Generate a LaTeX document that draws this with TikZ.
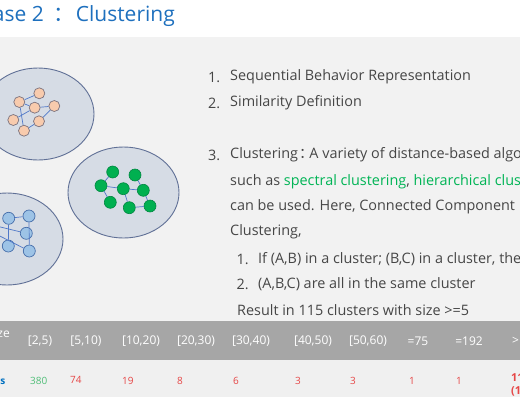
\documentclass[tikz,border=0pt]{standalone}
\usepackage{fontspec}
\setmainfont{Open Sans}
\newfontfamily\cjkf{Noto Sans CJK SC}
\usetikzlibrary{shapes.geometric}
\definecolor{titleblue}{RGB}{30,112,190}
\definecolor{bggray}{RGB}{242,242,242}
\definecolor{hdrgray}{RGB}{166,166,166}
\definecolor{rowgray}{RGB}{240,240,240}
\definecolor{clfill}{RGB}{214,220,229}
\definecolor{cldraw}{RGB}{96,112,150}
\definecolor{edgeblue}{RGB}{80,120,200}
\definecolor{ofill}{RGB}{248,203,173}
\definecolor{odraw}{RGB}{125,115,125}
\definecolor{gfill}{RGB}{0,176,80}
\definecolor{gdraw}{RGB}{0,135,65}
\definecolor{bfill}{RGB}{157,195,230}
\definecolor{bdraw}{RGB}{70,110,170}
\definecolor{txtgray}{RGB}{70,70,70}
\definecolor{hlgreen}{RGB}{0,180,85}
\definecolor{valred}{RGB}{230,70,70}
\definecolor{valgreen}{RGB}{80,190,120}
\definecolor{lblblue}{RGB}{0,112,192}
\begin{document}
\begin{tikzpicture}[x=1pt,y=-1pt,
  cluster/.style={ellipse,draw=cldraw,fill=clfill,line width=0.9pt,inner sep=0pt},
  onode/.style={circle,draw=odraw,fill=ofill,line width=0.7pt,minimum size=11pt,inner sep=0pt},
  gnode/.style={circle,draw=gdraw,fill=gfill,line width=0.6pt,minimum size=12pt,inner sep=0pt},
  bnode/.style={circle,draw=bdraw,fill=bfill,line width=0.7pt,minimum size=12pt,inner sep=0pt},
  edge/.style={draw=edgeblue,line width=0.7pt},
  txt/.style={text=txtgray,font=\fontsize{14.4}{16}\selectfont,inner sep=0pt,anchor=west},
  hdr/.style={text=white,font=\fontsize{12}{14}\selectfont,inner sep=0pt},
  val/.style={text=valred,font=\fontsize{10}{12}\selectfont,inner sep=0pt,anchor=west}]
\useasboundingbox (0,0) rectangle (520,400);
\clip (0,0) rectangle (520,400);
\fill[white] (0,0) rectangle (520,400);
\fill[bggray] (0,37) rectangle (520,321);
\fill[hdrgray] (0,321) rectangle (520,360);
\fill[rowgray] (0,360) rectangle (520,397);
% title
\node[text=titleblue,font=\fontsize{21}{24}\selectfont,inner sep=0pt,anchor=base east] (title) at (175,21.5) {Phase 2\hspace{10pt}{\cjkf ：}\hspace{1pt}Clustering};
% clusters
\node[cluster,minimum width=112pt,minimum height=92pt] (c1) at (38,114) {};
\node[cluster,minimum width=111pt,minimum height=91pt] (c2) at (123.5,192.5) {};
\node[cluster,minimum width=112pt,minimum height=92pt] (c3) at (7,239) {};
% orange nodes
\node[onode] (o1) at (39.3,93.3) {};
\node[onode] (o2) at (19.3,102) {};
\node[onode] (o3) at (34.7,107.7) {};
\node[onode] (o4) at (54.3,106) {};
\node[onode] (o5) at (13.3,120) {};
\node[onode] (o6) at (39,121.3) {};
\node[onode] (o7) at (24,130.7) {};
\draw[edge] (o1)--(o2) (o2)--(o7) (o3)--(o4) (o4)--(o6) (o5)--(o3) (o6)--(o7) (o2)--(o3);
% green nodes
\node[gnode] (g1) at (112.7,172) {};
\node[gnode] (g2) at (135,175) {};
\node[gnode] (g3) at (101,185.7) {};
\node[gnode] (g4) at (123.3,188.7) {};
\node[gnode] (g5) at (143.3,190.3) {};
\node[gnode] (g6) at (110.3,202.3) {};
\node[gnode] (g7) at (129.3,207.7) {};
\node[gnode] (g8) at (150,206) {};
\draw[edge] (g1)--(g3) (g3)--(g4) (g2)--(g5) (g4)--(g5) (g4)--(g7) (g5)--(g8) (g7)--(g8) (g3)--(g6);
% blue nodes
\node[bnode] (b1) at (8.7,218.3) {};
\node[bnode] (b2) at (29,216) {};
\node[bnode] (b3) at (26.3,233.3) {};
\node[bnode] (b4) at (8.3,246) {};
\node[bnode] (b5) at (29.3,251) {};
\coordinate (bx1) at (-12,224);
\coordinate (bx2) at (-12,230);
\draw[edge] (b1)--(b2) (b2)--(b5) (b1)--(b4) (bx1)--(b3) (bx2)--(b5);
% text
\node[txt] (n1) at (208,77) {1.};
\node[txt] (t1) at (230,77) {Sequential Behavior Representation};
\node[txt] (n2) at (208,103) {2.};
\node[txt] (t2) at (230,103) {Similarity Definition};
\node[txt] (n3) at (208,155) {3.};
\node[txt] (t3) at (230,155) {Clustering\hspace{1pt}{\cjkf ：}\hspace{-4pt}A variety of distance-based algorithms};
\node[txt] (t4) at (230,181.5) {such as \textcolor{hlgreen}{spectral clustering}, \textcolor{hlgreen}{hierarchical clustering}};
\node[txt] (t5) at (230,206.5) {can be used. Here, Connected Component Based};
\node[txt] (t6) at (230,231.5) {Clustering,};
\node[txt] (n4) at (236.5,259) {1.};
\node[txt] (t7) at (258,259) {If (A,B) in a cluster; (B,C) in a cluster, then};
\node[txt] (n5) at (236.5,284.5) {2.};
\node[txt] (t8) at (258,284.5) {(A,B,C) are all in the same cluster};
\node[txt] (t9) at (237,310) {Result in 115 clusters with size >=5};
% table header
\node[hdr,anchor=east] (h0) at (10,333) {Size};
\node[hdr] (h1) at (40,341) {[2,5)};
\node[hdr] (h2) at (86,341) {[5,10)};
\node[hdr] (h3) at (141,341) {[10,20)};
\node[hdr] (h4) at (196,341) {[20,30)};
\node[hdr] (h5) at (251,341) {[30,40)};
\node[hdr] (h6) at (313,341) {[40,50)};
\node[hdr] (h7) at (368,341) {[50,60)};
\node[hdr] (h8) at (418,341) {=75};
\node[hdr] (h9) at (469,341) {=192};
\node[hdr,anchor=west] (h10) at (512,341) {>};
% table body
\node[text=lblblue,font=\fontsize{10}{12}\selectfont\bfseries,inner sep=0pt,anchor=east] (r0) at (5.5,381) {Clusters};
\node[val,text=valgreen] (v1) at (30,381) {380};
\node[val] (v2) at (70,380) {74};
\node[val] (v3) at (122,381) {19};
\node[val] (v4) at (177,381) {8};
\node[val] (v5) at (233,381) {6};
\node[val] (v6) at (295,381) {3};
\node[val] (v7) at (350,381) {3};
\node[val] (v8) at (409,381) {1};
\node[val] (v9) at (456,381) {1};
\node[val,font=\fontsize{11}{13}\selectfont\bfseries] (v10) at (511,378) {115};
\node[val,font=\fontsize{11}{13}\selectfont\bfseries] (v11) at (511,391) {(100\%)};
\end{tikzpicture}
\end{document}
